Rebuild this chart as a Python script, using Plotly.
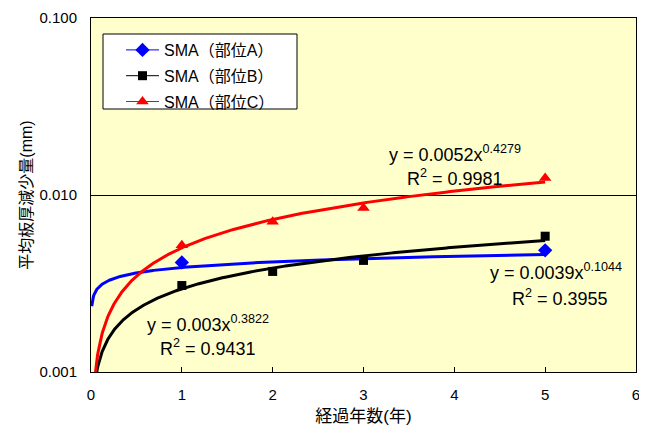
import numpy as np
import plotly.graph_objects as go

# ---- data ----
years_A = [1, 5]
vals_A = [0.00416, 0.00487]
years_B = [1, 2, 3, 5]
vals_B = [0.00308, 0.00370, 0.00427, 0.00585]
years_C = [1, 2, 3, 5]
vals_C = [0.00520, 0.00706, 0.00845, 0.01247]

# trendline curves as drawn (y = a * x^b)
curve_A = (0.0039, 0.1044)
curve_B = (0.00295, 0.39)
curve_C = (0.00503, 0.532)

# equations printed on the chart
eq_A = ("0.0039", "0.1044", "0.3955")
eq_B = ("0.003", "0.3822", "0.9431")
eq_C = ("0.0052", "0.4279", "0.9981")

series_names = ["SMA（部位A）", "SMA（部位B）", "SMA（部位C）"]
x_ticks = [0, 1, 2, 3, 4, 5, 6]
y_ticks = [0.001, 0.01, 0.1]
y_tick_labels = ["0.001", "0.010", "0.100"]

FONT = "Arial, 'Liberation Sans', 'Noto Sans CJK JP', sans-serif"

# page body has an 8px default margin -> shrink the figure to fit the window
OFF = 8
FIGW, FIGH = 647 - OFF, 433 - OFF
# plot-area geometry in screen pixels
L, R, T, B = 91, 636, 18, 372
W, H = R - L, B - T

def px(xp):
    return (xp - L) / W

def py(yp):
    return (B - yp) / H

fig = go.Figure()

colors = ["#0000FF", "#000000", "#FF0000"]
symbols = ["diamond", "square", "triangle-up"]
sizes = [11, 9, 11]
series = [(years_A, vals_A, curve_A), (years_B, vals_B, curve_B), (years_C, vals_C, curve_C)]

xs = np.linspace(0.008, 5, 800)
for (xd, yd, (a, b)), c in zip(series, colors):
    fig.add_trace(go.Scatter(x=xs, y=a * xs ** b, mode="lines",
                             line=dict(color=c, width=3), showlegend=False,
                             hoverinfo="skip"))

for i, ((xd, yd, _), c) in enumerate(zip(series, colors)):
    fig.add_trace(go.Scatter(x=xd, y=yd, mode="markers",
                             marker=dict(color=c, symbol=symbols[i], size=sizes[i]),
                             showlegend=False, name=series_names[i]))
    fig.add_trace(go.Scatter(x=[None], y=[None], mode="lines+markers",
                             line=dict(color=c, width=1),
                             marker=dict(color=c, symbol=symbols[i], size=sizes[i]),
                             name=series_names[i], legendgroup=f"g{i}"))

ann_style = dict(xref="paper", yref="paper", showarrow=False, xanchor="left",
                 yanchor="middle", font=dict(family=FONT, size=18, color="#000000"))

def add_eq(eq, x_eq, y_eq, x_r2, y_r2):
    a, b, r2 = eq
    fig.add_annotation(text=f"y = {a}x<sup>{b}</sup>", x=px(x_eq), y=py(y_eq), **ann_style)
    fig.add_annotation(text=f"R<sup>2</sup> = {r2}", x=px(x_r2), y=py(y_r2), **ann_style)

add_eq(eq_C, 387, 153, 405, 177)
add_eq(eq_A, 488, 271, 510, 297)
add_eq(eq_B, 145, 323, 158, 347)

# legend frame
fig.add_shape(type="rect", xref="paper", yref="paper",
              x0=px(103), x1=px(297), y0=py(109), y1=py(34),
              fillcolor="white", line=dict(color="black", width=1), layer="below")

fig.update_layout(
    width=FIGW, height=FIGH,
    margin=dict(l=L - OFF, r=FIGW - (R - OFF), t=T - OFF, b=FIGH - (B - OFF), autoexpand=False),
    paper_bgcolor="white",
    plot_bgcolor="#FFFFCC",
    font=dict(family=FONT, size=15, color="#000000"),
    legend=dict(x=px(121), y=py(33), xanchor="left", yanchor="top",
                bgcolor="rgba(0,0,0,0)", borderwidth=0,
                font=dict(family=FONT, size=16), tracegroupgap=2,
                itemwidth=33),
    xaxis=dict(range=[0, 6], tickvals=x_ticks, ticktext=[str(v) for v in x_ticks],
               ticks="inside", ticklen=5,
               tickcolor="black", showgrid=False, zeroline=False, automargin=False,
               showline=True, linecolor="black", linewidth=1, mirror=True,
               tickfont=dict(size=15), ticklabelstandoff=9,
               title=dict(text="経過年数(年)", font=dict(size=17), standoff=8)),
    yaxis=dict(type="log", range=[-3, -1], tickvals=y_ticks, ticktext=y_tick_labels,
               ticks="", showgrid=True, gridcolor="black", gridwidth=1, automargin=False,
               zeroline=False, showline=True, linecolor="black", linewidth=1, mirror=True,
               tickfont=dict(size=15), ticklabelstandoff=10,
               title=dict(text="平均板厚減少量(mm)", font=dict(size=16), standoff=2)),
)

fig.write_html("out.html")
